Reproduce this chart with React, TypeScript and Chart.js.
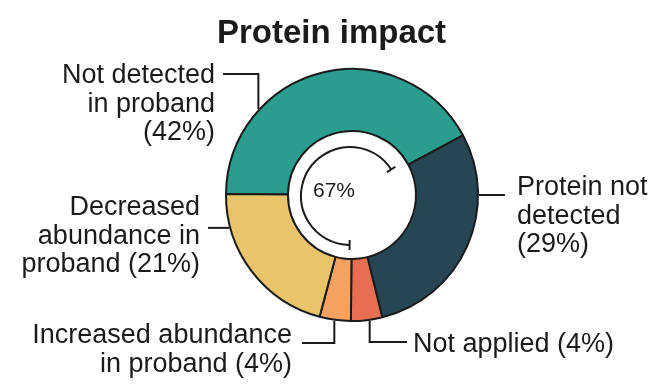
import React, { useEffect, useRef } from "react";
import { Chart, registerables } from "chart.js";

Chart.register(...registerables);

const TITLE = "Protein impact";
const CATEGORIES = [
  "Not detected in proband",
  "Protein not detected",
  "Not applied",
  "Increased abundance in proband",
  "Decreased abundance in proband",
];
const VALUES = [42, 29, 4, 4, 21];
const LABEL_LINES = [
  ["Not detected", "in proband", "(42%)"],
  ["Protein not", "detected", "(29%)"],
  ["Not applied (4%)"],
  ["Increased abundance", "in proband (4%)"],
  ["Decreased", "abundance in", "proband (21%)"],
];
const COLORS = ["#2a9d8f", "#264653", "#e76f51", "#f4a261", "#e9c46a"];
const CENTER_TEXT = "67%";
// indices of the categories summed by the inner arrow (4 + 21 + 42 = 67)
const CENTER_ARC_FROM = 3; // arc starts at start of this slice
const CENTER_ARC_TO = 0; // arc ends at end of this slice

const FONT = '"Liberation Sans", Arial, Helvetica, sans-serif';
const INK = "#1b1b1b";

// label layout: anchor angle on the ring (deg, clockwise from top) and leader route
type Step = ["v" | "h", number];
const LAYOUT: { angle: number; path: Step[]; textX: number; align: CanvasTextAlign; baseline: number }[] = [
  { angle: 312.5, path: [["v", 74], ["h", 223]], textX: 215, align: "right", baseline: 83 },
  { angle: 90, path: [["h", 505]], textX: 517, align: "left", baseline: 195 },
  { angle: 172, path: [["v", 342], ["h", 407]], textX: 413, align: "left", baseline: 352 },
  { angle: 188, path: [["v", 343], ["h", 302]], textX: 292, align: "right", baseline: 343 },
  { angle: 255, path: [["h", 208]], textX: 200, align: "right", baseline: 215 },
];
const LINE_HEIGHT = 28.7;

const annotate = {
  id: "annotate",
  afterDraw(chart: any) {
    const ctx: CanvasRenderingContext2D = chart.ctx;
    const meta = chart.getDatasetMeta(0);
    const arcs = meta.data as any[];
    if (!arcs.length) return;
    const cx = arcs[0].x;
    const cy = arcs[0].y;
    const R = arcs[0].outerRadius + 1;

    ctx.save();
    // title
    ctx.fillStyle = INK;
    ctx.font = `bold 33px ${FONT}`;
    ctx.textAlign = "center";
    ctx.textBaseline = "alphabetic";
    ctx.fillText(TITLE, 331.5, 43);

    // leader lines + labels
    ctx.strokeStyle = INK;
    ctx.lineWidth = 2;
    ctx.lineJoin = "miter";
    ctx.lineCap = "butt";
    ctx.font = `27px ${FONT}`;
    LAYOUT.forEach((lay, i) => {
      const a = (lay.angle * Math.PI) / 180;
      let x = cx + R * Math.sin(a);
      let y = cy - R * Math.cos(a);
      ctx.beginPath();
      ctx.moveTo(x, y);
      lay.path.forEach(([d, v]) => {
        if (d === "v") y = v;
        else x = v;
        ctx.lineTo(x, y);
      });
      ctx.stroke();
      ctx.textAlign = lay.align;
      LABEL_LINES[i].forEach((line, j) => {
        ctx.fillText(line, lay.textX, lay.baseline + j * LINE_HEIGHT);
      });
    });

    // inner arrow arc
    const ax = cx - 2;
    const ay = cy + 1;
    const ar = 49;
    const aEnd = arcs[CENTER_ARC_TO].endAngle - (4.5 * Math.PI) / 180;
    const aStart = arcs[CENTER_ARC_FROM].startAngle;
    ctx.beginPath();
    ctx.arc(ax, ay, ar, aEnd, aStart, true);
    ctx.stroke();
    [aEnd, aStart].forEach((t) => {
      ctx.beginPath();
      ctx.moveTo(ax + (ar - 5) * Math.cos(t), ay + (ar - 5) * Math.sin(t));
      ctx.lineTo(ax + (ar + 5) * Math.cos(t), ay + (ar + 5) * Math.sin(t));
      ctx.stroke();
    });

    ctx.font = `21px ${FONT}`;
    ctx.textAlign = "center";
    ctx.fillText(CENTER_TEXT, 334, 197);
    ctx.restore();
  },
};

export default function App() {
  const ref = useRef<HTMLCanvasElement>(null);
  useEffect(() => {
    if (!ref.current) return;
    const chart = new Chart(ref.current, {
      type: "doughnut",
      data: {
        labels: CATEGORIES,
        datasets: [
          {
            data: VALUES,
            backgroundColor: COLORS,
            borderColor: INK,
            borderWidth: 2,
            hoverBorderWidth: 2,
            hoverOffset: 0,
            offset: 0,
          },
        ],
      },
      options: {
        responsive: false,
        maintainAspectRatio: false,
        animation: false,
        events: [],
        rotation: 270.5,
        cutout: 64,
        layout: { padding: { left: 142, right: 100, top: 68, bottom: 68 } },
        plugins: {
          legend: { display: false },
          tooltip: { enabled: false },
          title: { display: false },
        },
      },
      plugins: [annotate],
    });
    return () => chart.destroy();
  }, []);
  return (
    <div style={{ position: "fixed", left: 0, top: 0, width: 662, height: 390, background: "#fff" }}>
      <canvas ref={ref} width={662} height={390} style={{ display: "block" }} />
    </div>
  );
}
